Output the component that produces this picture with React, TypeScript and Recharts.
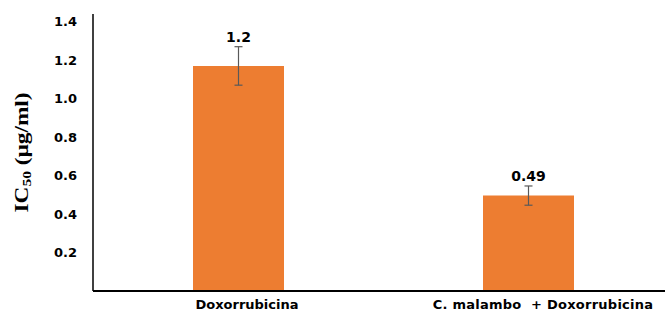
import { BarChart, Bar, XAxis, YAxis, ErrorBar, LabelList } from "recharts";

const categories = ["Doxorrubicina", "C. malambo\u00a0 + Doxorrubicina"];
const values = [1.17, 0.496];
const errors = [0.1, 0.05];
const valueLabels = ["1.2", "0.49"];
const yTicks = [0.2, 0.4, 0.6, 0.8, 1.0, 1.2, 1.4];

const data = categories.map((name, i) => ({
  name,
  value: values[i],
  err: errors[i],
  label: valueLabels[i],
}));

const FONT = "'DejaVu Sans', Verdana, sans-serif";
const Y_AXIS_W = 93;

function YTitle(props: any) {
  const vb = props.viewBox || {};
  const cy = (vb.y ?? 14) + (vb.height ?? 277) / 2;
  const cx = 22;
  return (
    <text
      x={cx}
      y={cy}
      transform={`rotate(-90, ${cx}, ${cy})`}
      textAnchor="middle"
      dominantBaseline="central"
      fontFamily="'Liberation Serif', 'Times New Roman', serif"
      fontWeight="bold"
      fontSize={18}
      fill="#000"
      textLength={120}
      lengthAdjust="spacingAndGlyphs"
    >
      IC<tspan fontSize={12} dy={5}>50</tspan>
      <tspan dy={-5}> (µg/ml)</tspan>
    </text>
  );
}

function YTick(props: any) {
  const { y, payload } = props;
  return (
    <text
      x={Y_AXIS_W - 16}
      y={y}
      textAnchor="end"
      dominantBaseline="central"
      fontFamily={FONT}
      fontWeight="bold"
      fontSize={13}
      fill="#000"
    >
      {Number(payload.value).toFixed(1)}
    </text>
  );
}

function CatTick(props: any) {
  const { x, y, payload, index } = props;
  return (
    <text
      x={x + (index === 0 ? 9 : 15)}
      y={y + 10}
      textAnchor="middle"
      fontFamily={FONT}
      fontWeight="bold"
      fontSize={13}
      letterSpacing={index === 0 ? 0 : 0.25}
      fill="#000"
    >
      {payload.value}
    </text>
  );
}

function ValueLabel(props: any) {
  const { x, y, width, height, index } = props;
  const v = values[index];
  const perUnit = height / v;
  const errTop = y - errors[index] * perUnit;
  return (
    <text
      x={x + width / 2}
      y={errTop - 5}
      textAnchor="middle"
      fontFamily={FONT}
      fontWeight="bold"
      fontSize={14}
      fill="#000"
    >
      {valueLabels[index]}
    </text>
  );
}

export default function App() {
  return (
    <div
      style={{
        position: "absolute",
        left: 0,
        top: 0,
        width: 665,
        height: 314,
        overflow: "hidden",
        background: "#fff",
      }}
    >
      <BarChart
        width={680}
        height={314}
        data={data}
        margin={{ top: 14, right: 7, bottom: 0, left: 0 }}
      >
        <XAxis
          dataKey="name"
          height={23}
          tickLine={false}
          axisLine={{ stroke: "#000", strokeWidth: 2 }}
          tick={<CatTick />}
          interval={0}
        />
        <YAxis
          width={Y_AXIS_W}
          domain={[0, 1.44]}
          ticks={yTicks}
          tickLine={false}
          axisLine={{ stroke: "#000", strokeWidth: 1.5 }}
          tick={<YTick />}
          label={<YTitle />}
        />
        <Bar dataKey="value" fill="#ED7D31" barSize={91} isAnimationActive={false}>
          <ErrorBar
            dataKey="err"
            width={4}
            stroke="#595959"
            strokeWidth={1.2}
            direction="y"
          />
          <LabelList dataKey="label" content={<ValueLabel />} />
        </Bar>
      </BarChart>
    </div>
  );
}
